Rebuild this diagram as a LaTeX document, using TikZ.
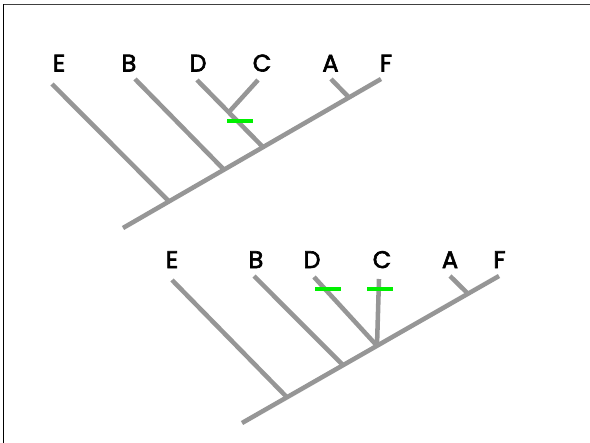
\documentclass[tikz,border=0pt]{standalone}
\usepackage{fontspec}
\newfontfamily\taxonfont{Poppins}[UprightFeatures={FakeBold=2.6}]
\definecolor{branch}{RGB}{150,150,150}
\definecolor{mark}{RGB}{0,240,0}
\begin{document}
\begin{tikzpicture}[x=0.75pt,y=-0.75pt,
  branchline/.style={draw=branch,line width=3.4pt},
  changebar/.style={draw=mark,line width=3pt},
  taxon/.style={anchor=base,inner sep=0pt,font=\taxonfont\fontsize{18}{21}\selectfont},
  frameline/.style={line width=1.1pt}]
\useasboundingbox (0,0) rectangle (590,443);
% frame: top and left edges only
\draw[frameline,draw=black!75] (3.5,4.5) -- (590,4.5);
\draw[frameline,draw=black] (3.5,4) -- (3.5,443);

% ---------- upper tree ----------
\coordinate (r1) at (123,228);
\coordinate (f1) at (381,79);
\coordinate (je1) at (169,201.4);
\coordinate (jb1) at (224,169.7);
\coordinate (jd1) at (263,147.1);
\coordinate (ja1) at (349,97.5);
\coordinate (jc1) at (229,112);
\coordinate (e1) at (52,84);
\coordinate (b1) at (135,79);
\coordinate (d1) at (197,80);
\coordinate (c1) at (258,80);
\coordinate (a1) at (331,79);
\node[taxon] (le1) at (59,71.5) {E};
\node[taxon] (lb1) at (129,71.5) {B};
\node[taxon] (ld1) at (198,71.5) {D};
\node[taxon] (lc1) at (262,71.5) {C};
\node[taxon] (la1) at (330.5,71.5) {A};
\node[taxon] (lf1) at (386,71.5) {F};
\draw[branchline] (r1) -- (f1);
\draw[branchline] (e1) -- (je1);
\draw[branchline] (b1) -- (jb1);
\draw[branchline] (d1) -- (jd1);
\draw[branchline] (c1) -- (jc1);
\draw[branchline] (a1) -- (ja1);
\coordinate (g1a) at (227,121);
\coordinate (g1b) at (253,121);
\draw[changebar] (g1a) -- (g1b);

% ---------- lower tree ----------
\coordinate (r2) at (242,423);
\coordinate (f2) at (499,276);
\coordinate (je2) at (287,397.3);
\coordinate (jb2) at (343,365.2);
\coordinate (jdc2) at (377,345.8);
\coordinate (ja2) at (468,293.7);
\coordinate (e2) at (172,280);
\coordinate (b2) at (254,276);
\coordinate (d2) at (314,277);
\coordinate (c2) at (379,279);
\coordinate (a2) at (450,276);
\node[taxon] (le2) at (172,268) {E};
\node[taxon] (lb2) at (256,268) {B};
\node[taxon] (ld2) at (312,268) {D};
\node[taxon] (lc2) at (382,268) {C};
\node[taxon] (la2) at (450,268) {A};
\node[taxon] (lf2) at (499.5,268) {F};
\draw[branchline] (r2) -- (f2);
\draw[branchline] (e2) -- (je2);
\draw[branchline] (b2) -- (jb2);
\draw[branchline] (d2) -- (jdc2);
\draw[branchline] (c2) -- (jdc2);
\draw[branchline] (a2) -- (ja2);
\coordinate (g2a) at (315,289);
\coordinate (g2b) at (341,289);
\coordinate (g3a) at (367,289);
\coordinate (g3b) at (393,289);
\draw[changebar] (g2a) -- (g2b);
\draw[changebar] (g3a) -- (g3b);
\end{tikzpicture}
\end{document}
